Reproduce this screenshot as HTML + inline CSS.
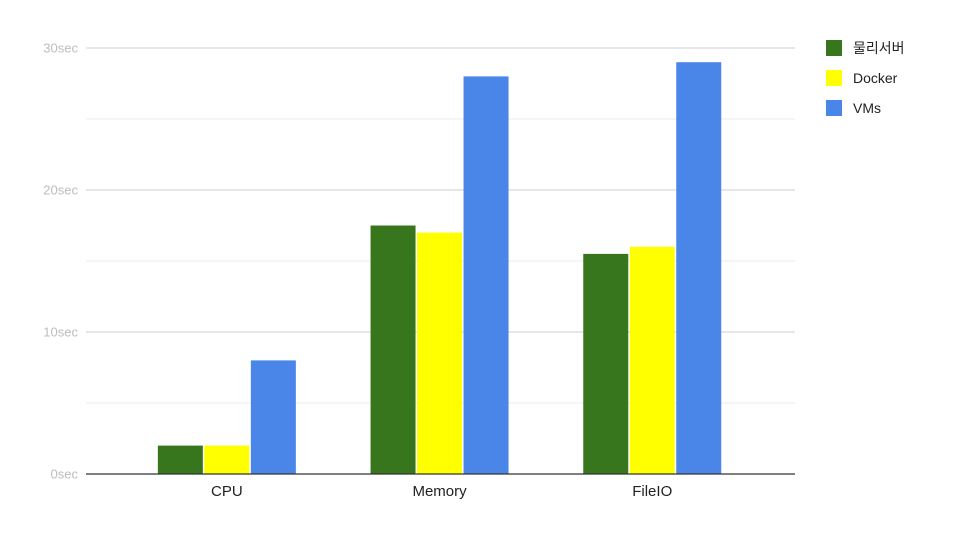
<!DOCTYPE html>
<html><head><meta charset="utf-8"><style>
html,body{margin:0;padding:0;background:#fff;width:960px;height:540px;overflow:hidden}
svg{display:block}
text{font-family:"Liberation Sans","Noto Sans CJK KR",sans-serif}
</style></head><body>
<svg id="chart" width="960" height="540"></svg>
<script>
const categories = ["CPU","Memory","FileIO"];
const seriesNames = ["물리서버","Docker","VMs"];
const physicalValues = [2,17.5,15.5];
const dockerValues = [2,17,16];
const vmValues = [8,28,29];
const yTicks = [0,10,20,30];
const yTickLabels = ["0sec","10sec","20sec","30sec"];
const minorTicks = [5,15,25];

const colors = ["#38761d","#ffff00","#4a86e8"];
const series = [physicalValues, dockerValues, vmValues];
const svg = document.getElementById('chart');
const NS = "http://www.w3.org/2000/svg";
const plotL = 86, plotR = 795, y0 = 474, yTop = 48, maxV = 30;
const bandStart = 120.5, bandW = 212.7, barW = 45, barGap = 1.5;
function y(v){ return y0 - (v/maxV)*(y0-yTop); }
function xc(i){ return bandStart + bandW*(i+0.5); }
function mk(tag, attrs){ const e=document.createElementNS(NS,tag); for(const k in attrs) e.setAttribute(k,attrs[k]); svg.appendChild(e); return e; }

minorTicks.forEach(t=>{
  const l = mk('line',{x1:plotL,x2:plotR,y1:y(t),y2:y(t),stroke:'#ebebeb','stroke-width':1});
  
  
});
yTicks.forEach((t,i)=>{
  if(t!==0){
    const l = mk('line',{x1:plotL,x2:plotR,y1:y(t),y2:y(t),stroke:'#cccccc','stroke-width':1});
    
    
  }
  const tx = mk('text',{x:78,y:y(t)+4.5,'text-anchor':'end','font-size':13,fill:'#bdbdbd'});
  tx.textContent = yTickLabels[i];
  
  
});

categories.forEach((c,i)=>{
  const total = 3*barW + 2*barGap;
  series.forEach((s,j)=>{
    const x = xc(i) - total/2 + j*(barW+barGap);
    const r = mk('rect',{x:x,y:y(s[i]),width:barW,height:y0-y(s[i]),fill:colors[j]});
    
    
  });
  const t = mk('text',{x:xc(i),y:496,'text-anchor':'middle','font-size':15,fill:'#222'});
  t.textContent = c;
  
  
});

const ax = mk('line',{x1:plotL,x2:plotR,y1:y0,y2:y0,stroke:'#333','stroke-width':1.3});



seriesNames.forEach((n,j)=>{
  const ly = 48 + j*30;
  const r = mk('rect',{x:826,y:ly-8,width:16,height:16,fill:colors[j]});
  
  
  const t = mk('text',{x:853,y:ly+5,'font-size':14,fill:'#222'});
  t.textContent = n;
  
  
});
</script>
</body></html>
